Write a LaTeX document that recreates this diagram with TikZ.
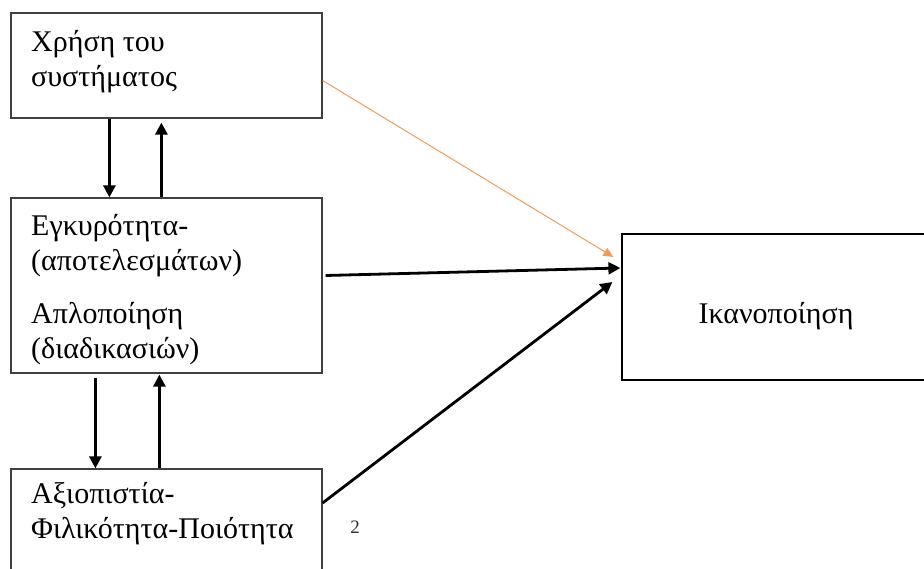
\documentclass[tikz,border=0pt]{standalone}
\usepackage{fontspec}
\setmainfont{Liberation Serif}
\usetikzlibrary{arrows.meta}

\begin{document}
\begin{tikzpicture}[x=1pt, y=-1pt,
  box/.style={draw=black!75, line width=1.2pt, inner sep=0pt},
  lbl/.style={inner sep=0pt, align=left, anchor=west, font=\fontsize{30}{35}\selectfont},
  conn/.style={line width=2.8pt, -{Triangle[length=12pt, width=12pt]}},
  lite/.style={draw={rgb,255:red,238;green,156;blue,92}, line width=1pt, -{Triangle[length=10pt, width=9pt]}}]
      \clip (0,0) rectangle (924,569);
      \fill[white] (0,0) rectangle (924,569);
      % boxes
      \node[box, minimum width=311pt, minimum height=105pt] (use) at (166.5,65.5) {};
      \node[box, minimum width=311pt, minimum height=175pt] (valid) at (166.5,285.5) {};
      \node[box, minimum width=311pt, minimum height=111pt] (trust) at (166.5,524.5) {};
      \node[box, draw=black, minimum width=308pt, minimum height=146pt] (sat) at (776,307) {};
      % texts
      \node[lbl] (usetxt) at (31,62) {Χρήση του\\συστήματος};
      \node[lbl] (validtxt) at (31,290) {Εγκυρότητα-\\(αποτελεσμάτων)\\[18pt]Απλοποίηση\\(διαδικασιών)};
      \node[lbl] (trusttxt) at (31,514) {Αξιοπιστία-\\Φιλικότητα-Ποιότητα};
      \node[lbl, anchor=center] (sattxt) at (776,316) {Ικανοποίηση};
      \node[inner sep=0pt, text=black!80, font=\fontsize{19}{19}\selectfont] (note) at (355,527) {2};
      % arrows
      \draw[conn] ([xshift=99pt]use.south west) -- ([xshift=99pt]valid.north west);
      \draw[conn] ([xshift=151pt]valid.north west) -- ([xshift=151pt,yshift=-4pt]use.south west);
      \draw[conn] ([xshift=85pt,yshift=-4pt]valid.south west) -- ([xshift=85pt]trust.north west);
      \draw[conn] ([xshift=149pt]trust.north west) -- ([xshift=149pt,yshift=-1pt]valid.south west);
      \draw[lite] ([yshift=-15pt]use.east) -- ([xshift=-8pt,yshift=50pt]sat.west);
      \draw[conn] ([xshift=3pt,yshift=10pt]valid.east) -- ([xshift=-1pt,yshift=39pt]sat.west);
      \draw[conn] ([yshift=21.5pt]trust.east) -- ([xshift=-9pt,yshift=25pt]sat.west);
\end{tikzpicture}
\end{document}
